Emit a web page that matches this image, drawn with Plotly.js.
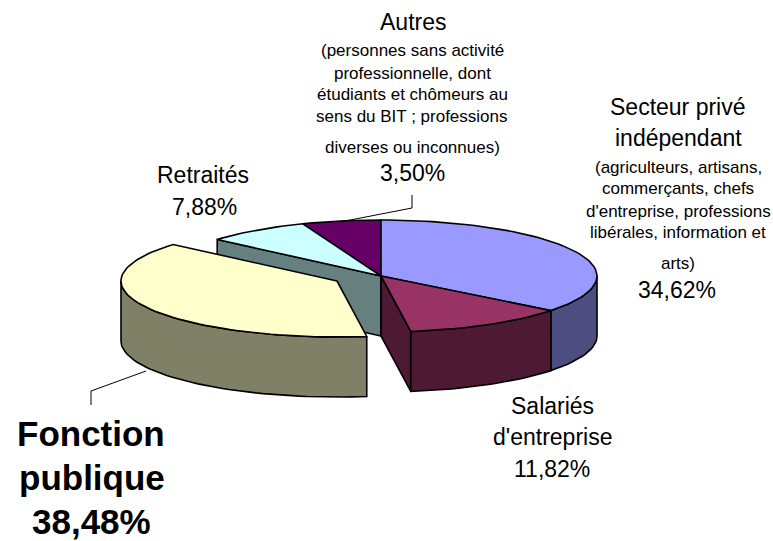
<!DOCTYPE html>
<html><head><meta charset="utf-8">
<script src="https://cdn.plot.ly/plotly-3.0.1.min.js"></script>
<style>html,body{margin:0;padding:0;background:#fff}#c{width:773px;height:541px}</style>
</head><body><div id="c"></div>
<script>
// Slice names, printed percentages and the angular sizes
const categories = ["Secteur privé indépendant", "Salariés d'entreprise", "Fonction publique", "Retraités", "Autres"];
const printedValues = ["34,62%", "11,82%", "38,48%", "7,88%", "3,50%"];
const sliceShares = [35.6, 12.2, 38.5, 7.8, 5.9];
const topColors = ["#9999FF", "#993366", "#FFFFCC", "#CCFFFF", "#660066"];
const sideColors = ["#4D4D80", "#4D1933", "#808066", "#668080", "#330033"];
const explodeX = [0, 0, -44, 0, 0];
const explodeY = [0, 0, 5, 0, 0];

const CX = 381, CY = 276, RX = 216, RY = 56, DEPTH = 60, FONT = "Liberation Sans, Arial, sans-serif";

const total = sliceShares.reduce(function (a, b) { return a + b; }, 0);
const starts = []; let acc = 0;
sliceShares.forEach(function (s) { starts.push(acc / total * 360); acc += s; });
starts.push(360);

function pt(i, deg, down) {
  const r = deg * Math.PI / 180;
  return [CX + explodeX[i] + RX * Math.sin(r), CY + explodeY[i] - RY * Math.cos(r) + (down || 0)];
}
function arc(i, a, b, down) {
  const out = [], n = Math.max(2, Math.ceil(Math.abs(b - a) / 2));
  for (let k = 0; k <= n; k++) out.push(pt(i, a + (b - a) * k / n, down));
  return out;
}
function poly(points, fill) {
  const xs = points.map(function (p) { return p[0]; }), ys = points.map(function (p) { return p[1]; });
  xs.push(xs[0]); ys.push(ys[0]);
  return { type: "scatter", mode: "lines", x: xs, y: ys, fill: "toself", fillcolor: fill,
    line: { color: "#000", width: 1.6, shape: "linear" }, hoverinfo: "skip" };
}
function topFace(i) {
  return poly([[CX + explodeX[i], CY + explodeY[i]]].concat(arc(i, starts[i], starts[i + 1])), topColors[i]);
}
function outerFace(i, a, b) {
  return poly(arc(i, a, b).concat(arc(i, b, a, DEPTH)), sideColors[i]);
}
function wallFace(i, deg) {
  const c = [CX + explodeX[i], CY + explodeY[i]];
  return poly([c, pt(i, deg), pt(i, deg, DEPTH), [c[0], c[1] + DEPTH]], sideColors[i]);
}
function lead(xs, ys) {
  return { type: "scatter", mode: "lines", x: xs, y: ys, line: { color: "#000", width: 1 }, hoverinfo: "skip" };
}

const traces = [
  topFace(4),
  wallFace(3, starts[3]),
  topFace(3),
  outerFace(0, 90, starts[1]),
  topFace(0),
  wallFace(1, starts[2]),
  outerFace(1, starts[1], starts[2]),
  topFace(1),
  outerFace(2, starts[2], 270),
  topFace(2),
  lead([412, 412, 340], [195, 208, 222]),
  lead([91, 91, 146], [405, 391, 371])
];

function label(x, y, text, size, bold) {
  return { xref: "x", yref: "y", x: x, y: y, xanchor: "center", yanchor: "middle", showarrow: false,
    align: "center", text: bold ? "<b>" + text + "</b>" : text,
    font: { family: FONT, size: size, color: "#000" } };
}
const big = 23, small = 17;
const annotations = [
  label(413, 22, "Autres", big),
  label(412, 50, "(personnes sans activité", small),
  label(412, 73, "professionnelle, dont", small),
  label(412, 94, "étudiants et chômeurs au", small),
  label(412, 116, "sens du BIT ; professions", small),
  label(412, 147, "diverses ou inconnues)", small),
  label(412, 173, printedValues[4], big),
  label(678, 107, "Secteur privé", big),
  label(678, 138, "indépendant", big),
  label(678, 167, "(agriculteurs, artisans,", small),
  label(678, 188, "commerçants, chefs", small),
  label(678, 211, "d'entreprise, professions", small),
  label(678, 232, "libérales, information et", small),
  label(678, 263, "arts)", small),
  label(677, 290, printedValues[0], big),
  label(203, 175, "Retraités", big),
  label(204, 207, printedValues[3], big),
  label(552, 406, "Salariés", big),
  label(552, 437, "d'entreprise", big),
  label(552, 469, printedValues[1], big),
  label(91, 433, "Fonction", 35, true),
  label(92, 477, "publique", 35, true),
  label(91, 521, printedValues[2], 35, true)
];

Plotly.newPlot("c", traces, {
  width: 773, height: 541, margin: { l: 0, r: 0, t: 0, b: 0 },
  paper_bgcolor: "#fff", plot_bgcolor: "#fff", showlegend: false,
  xaxis: { range: [0, 773], visible: false, fixedrange: true },
  yaxis: { range: [541, 0], visible: false, fixedrange: true },
  annotations: annotations
}, { staticPlot: true, displayModeBar: false });
</script></body></html>
